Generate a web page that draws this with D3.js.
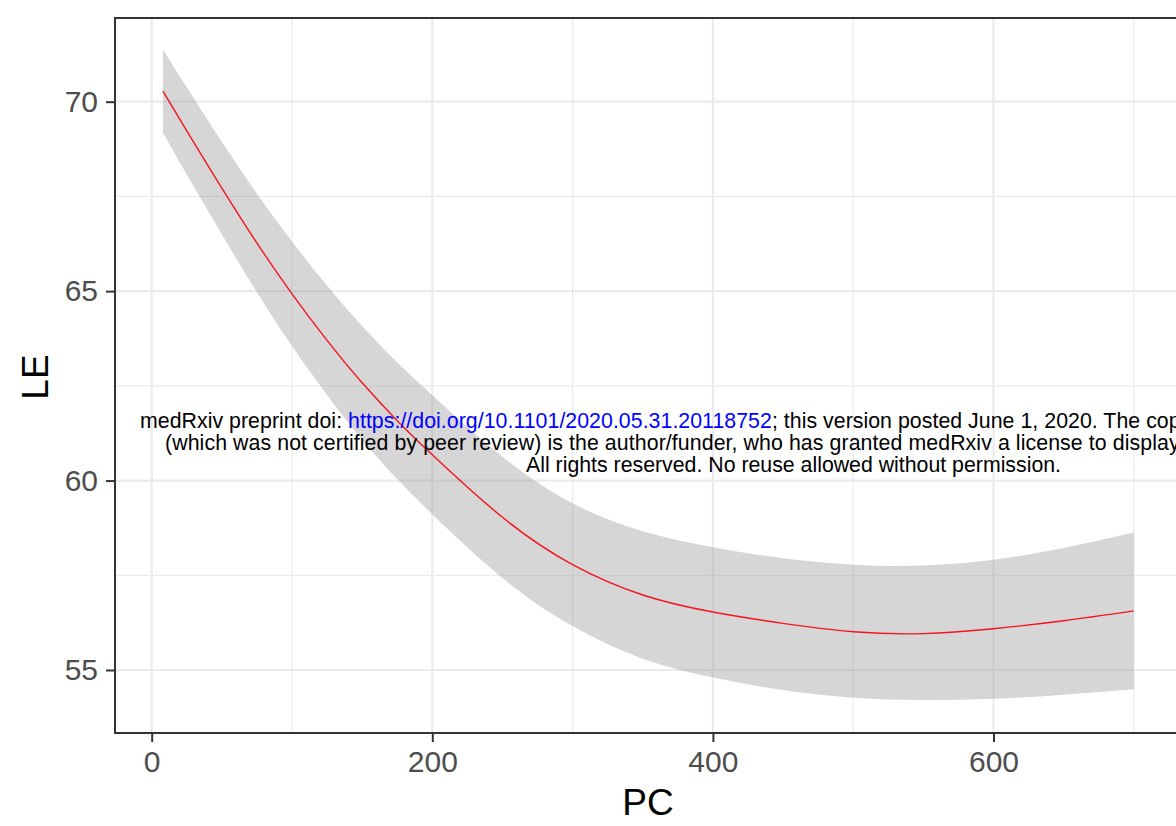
<!DOCTYPE html>
<html>
<head>
<meta charset="utf-8">
<script src="https://cdn.jsdelivr.net/npm/d3@7"></script>
<style>
  html, body { margin: 0; padding: 0; background: #fff; }
  svg { display: block; font-family: "Liberation Sans", Arial, sans-serif; }
</style>
</head>
<body>
<svg id="chart" width="1176" height="826"></svg>
<script>
// ---- data ----
const pc    = [8, 25, 50, 75, 100, 125, 150, 175, 200, 250, 300, 350, 400, 450, 500, 550, 600, 650, 700];
const fit   = [70.28, 69.23, 67.72, 66.27, 64.93, 63.70, 62.58, 61.58, 60.68, 59.03, 57.78, 56.98, 56.53, 56.23, 56.01, 55.96, 56.09, 56.30, 56.56];
const upper = [71.38, 70.38, 68.94, 67.57, 66.31, 65.14, 64.08, 63.12, 62.25, 60.63, 59.40, 58.66, 58.24, 57.95, 57.78, 57.76, 57.91, 58.22, 58.63];
const lower = [69.18, 68.08, 66.50, 64.97, 63.55, 62.26, 61.08, 60.04, 59.11, 57.43, 56.16, 55.30, 54.80, 54.47, 54.27, 54.21, 54.24, 54.35, 54.49];
const xTicks = [0, 200, 400, 600];
const xMinor = [100, 300, 500, 700];
const yTicks = [55, 60, 65, 70];
const yMinor = [57.5, 62.5, 67.5];
const xTitle = "PC";
const yTitle = "LE";
const stampLine1 = ["medRxiv preprint doi: ", "https://doi.org/10.1101/2020.05.31.20118752", "; this version posted June 1, 2020. The copyright holder for this preprint"];
const stampLine2 = "(which was not certified by peer review) is the author/funder, who has granted medRxiv a license to display the preprint in perpetuity.";
const stampLine3 = "All rights reserved. No reuse allowed without permission.";

const rows = pc.map((p, i) => ({pc: p, fit: fit[i], lo: lower[i], hi: upper[i]}));

// ---- layout ----
const svg = d3.select("#chart");
const panel = {left: 115, top: 18, right: 1183, bottom: 733};

const x = d3.scaleLinear().domain([0, 600]).range([151.7, 993.5]);
const y = d3.scaleLinear().domain([55, 70]).range([670, 101.7]);

const g = svg.append("g");

svg.append("defs").append("clipPath").attr("id", "clip")
  .append("rect").attr("x", panel.left).attr("y", panel.top)
  .attr("width", panel.right - panel.left).attr("height", panel.bottom - panel.top);

const grid = g.append("g").attr("clip-path", "url(#clip)");
grid.selectAll("line.xm").data(xMinor).enter().append("line")
  .attr("x1", d => x(d)).attr("x2", d => x(d)).attr("y1", panel.top).attr("y2", panel.bottom)
  .attr("stroke", "#ebebeb").attr("stroke-width", 1.2);
grid.selectAll("line.ym").data(yMinor).enter().append("line")
  .attr("y1", d => y(d)).attr("y2", d => y(d)).attr("x1", panel.left).attr("x2", panel.right)
  .attr("stroke", "#ebebeb").attr("stroke-width", 1.2);
grid.selectAll("line.xM").data(xTicks).enter().append("line")
  .attr("x1", d => x(d)).attr("x2", d => x(d)).attr("y1", panel.top).attr("y2", panel.bottom)
  .attr("stroke", "#ebebeb").attr("stroke-width", 2.2);
grid.selectAll("line.yM").data(yTicks).enter().append("line")
  .attr("y1", d => y(d)).attr("y2", d => y(d)).attr("x1", panel.left).attr("x2", panel.right)
  .attr("stroke", "#ebebeb").attr("stroke-width", 2.2);

// confidence band
const area = d3.area().curve(d3.curveNatural)
  .x(d => x(d.pc)).y0(d => y(d.lo)).y1(d => y(d.hi));
grid.append("path").datum(rows).attr("d", area)
  .attr("fill", "#999999").attr("fill-opacity", 0.4);

// fitted line
const line = d3.line().curve(d3.curveNatural).x(d => x(d.pc)).y(d => y(d.fit));
grid.append("path").datum(rows).attr("d", line)
  .attr("fill", "none").attr("stroke", "#f5141e").attr("stroke-width", 1.4);

// panel border
g.append("rect").attr("x", panel.left).attr("y", panel.top)
  .attr("width", panel.right - panel.left).attr("height", panel.bottom - panel.top)
  .attr("fill", "none").attr("stroke", "#333333").attr("stroke-width", 2);

// axes
const xAxis = d3.axisBottom(x).tickValues(xTicks).tickSize(9).tickPadding(9).tickFormat(d3.format("d"));
const xg = g.append("g").attr("transform", `translate(0,${panel.bottom})`).call(xAxis);
xg.select(".domain").remove();
xg.selectAll(".tick line").attr("stroke", "#333333").attr("stroke-width", 2);
xg.selectAll(".tick text").attr("fill", "#4d4d4d").attr("font-size", 30)
  .attr("font-family", "Liberation Sans, Arial, sans-serif");

const yAxis = d3.axisLeft(y).tickValues(yTicks).tickSize(9).tickPadding(8).tickFormat(d3.format("d"));
const yg = g.append("g").attr("transform", `translate(${panel.left},0)`).call(yAxis);
yg.select(".domain").remove();
yg.selectAll(".tick line").attr("stroke", "#333333").attr("stroke-width", 2);
yg.selectAll(".tick text").attr("fill", "#4d4d4d").attr("font-size", 30)
  .attr("font-family", "Liberation Sans, Arial, sans-serif");

// axis titles
g.append("text").attr("x", 648).attr("y", 815).attr("text-anchor", "middle")
  .attr("font-size", 37).attr("fill", "#000").text(xTitle);
g.append("text").attr("transform", "translate(48,377) rotate(-90)").attr("text-anchor", "middle")
  .attr("font-size", 37).attr("fill", "#000").text(yTitle);

// medRxiv stamp
const stampX = 793.5, fs = 21.3;
const t1 = svg.append("text").attr("x", stampX).attr("y", 428).attr("text-anchor", "middle")
  .attr("font-size", fs).attr("fill", "#000")
  .attr("textLength", 1307).attr("lengthAdjust", "spacing");
t1.append("tspan").text(stampLine1[0]);
t1.append("tspan").attr("fill", "#0000ff").text(stampLine1[1]);
t1.append("tspan").text(stampLine1[2]);
svg.append("text").attr("x", stampX).attr("y", 450).attr("text-anchor", "middle")
  .attr("font-size", fs).attr("fill", "#000")
  .attr("textLength", 1257).attr("lengthAdjust", "spacing").text(stampLine2);
svg.append("text").attr("x", stampX).attr("y", 472).attr("text-anchor", "middle")
  .attr("font-size", fs).attr("fill", "#000").text(stampLine3);
</script>
</body>
</html>
